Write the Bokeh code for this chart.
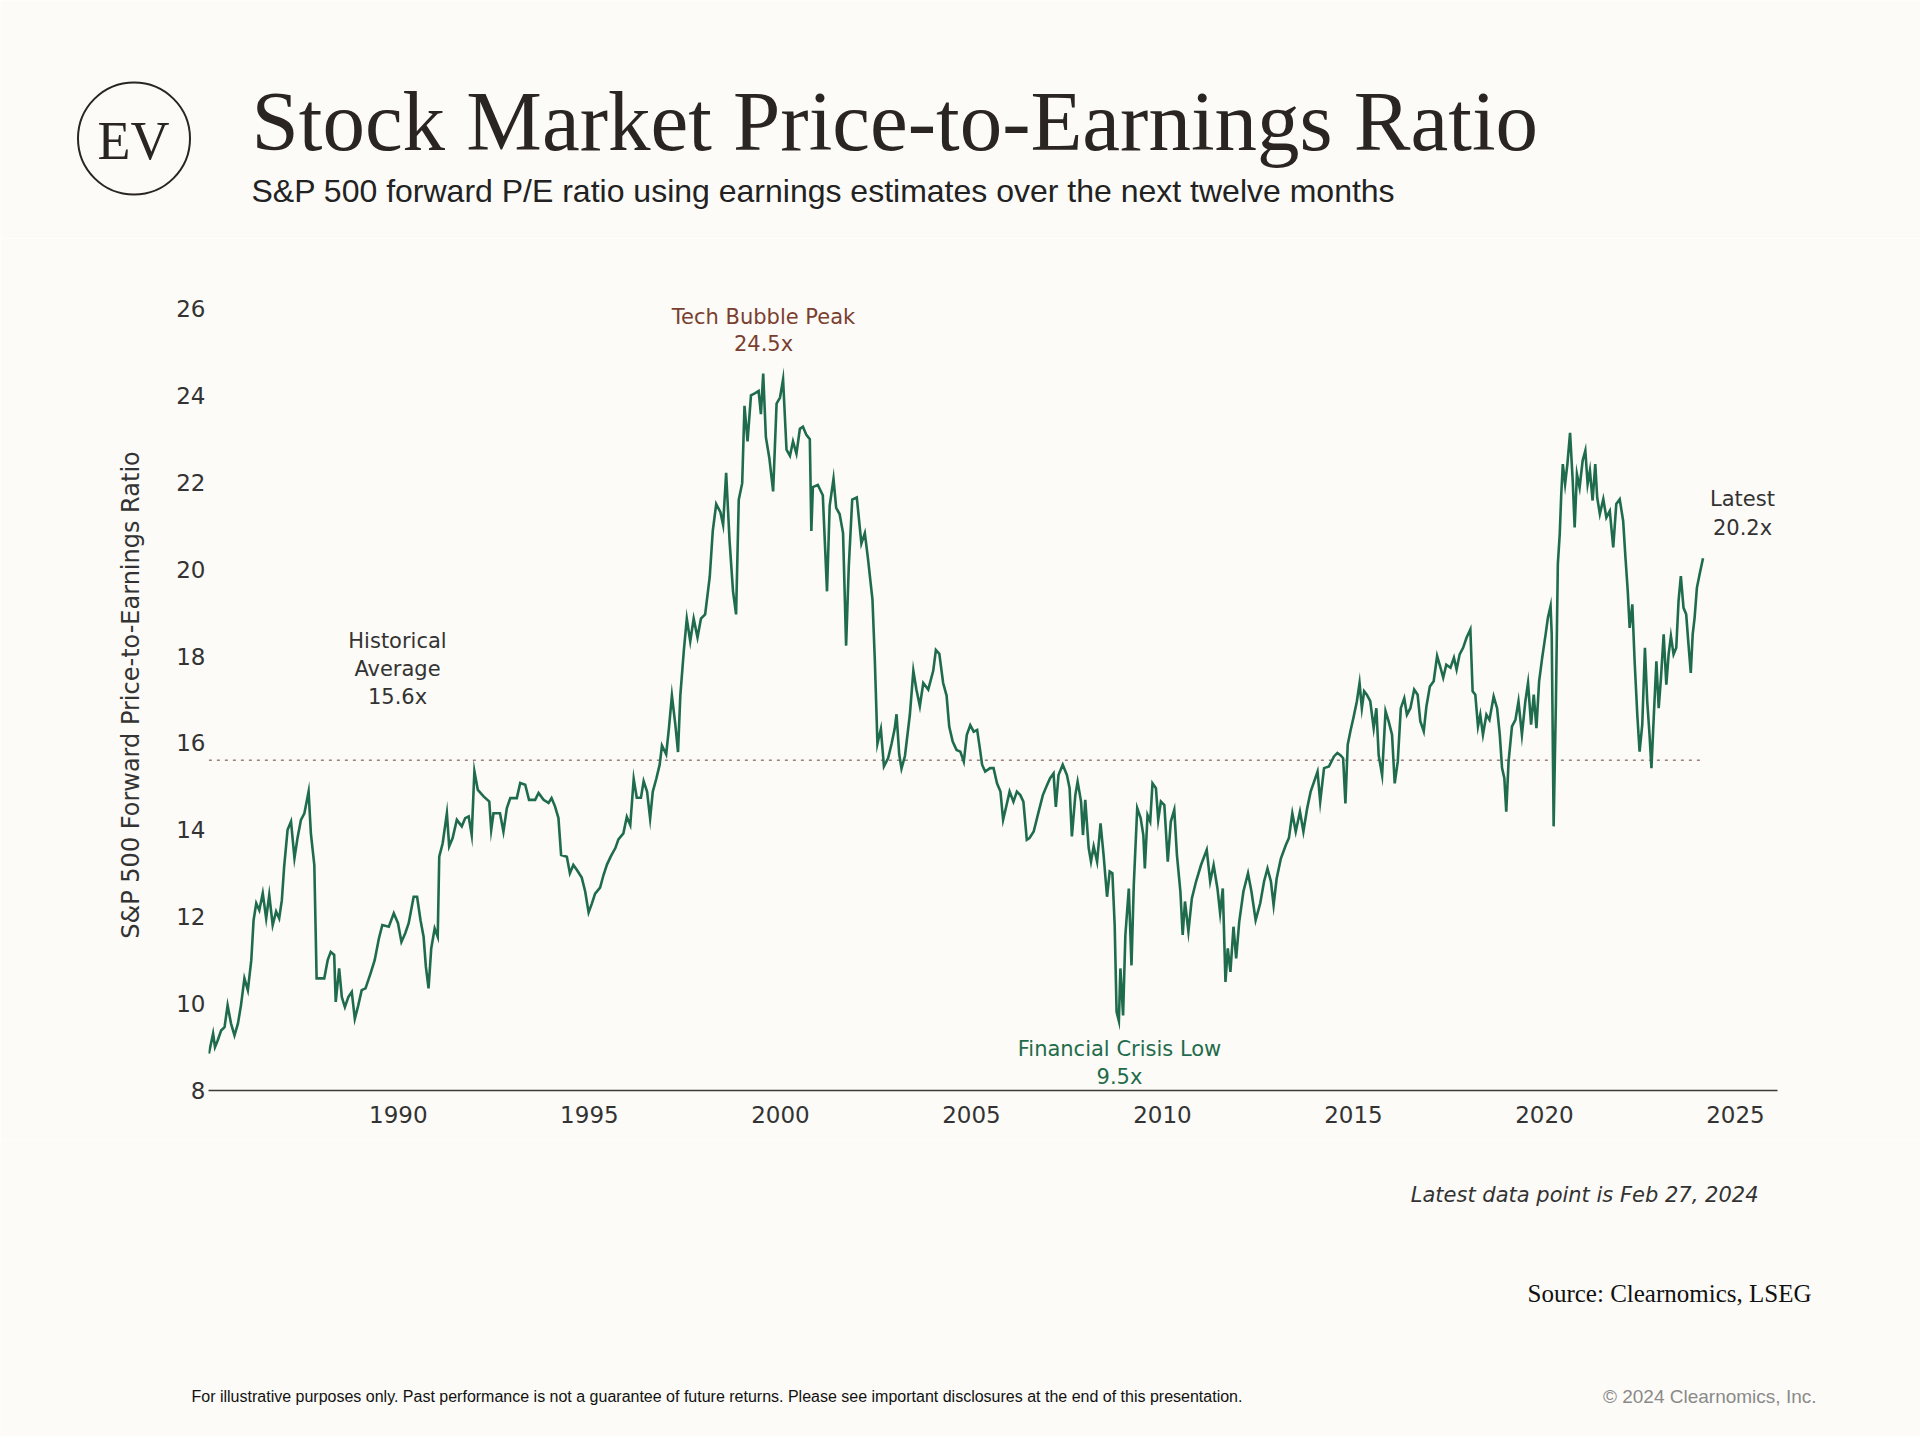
from bokeh.plotting import figure
from bokeh.layouts import column
from bokeh.models import Range1d, FixedTicker, Label
from bokeh.embed import file_html
from bokeh.resources import INLINE

# ---------------- data (decimal year, forward P/E) ----------------
dates = [
    1985.04, 1985.15, 1985.2, 1985.27, 1985.36, 1985.45, 1985.53, 1985.62, 1985.71, 1985.8,
    1985.88, 1985.97, 1986.06, 1986.15, 1986.21, 1986.28, 1986.36, 1986.45, 1986.54, 1986.62,
    1986.71, 1986.8, 1986.88, 1986.95, 1987.01, 1987.1, 1987.19, 1987.28, 1987.36, 1987.45,
    1987.54, 1987.65, 1987.71, 1987.8, 1987.86, 1988.06, 1988.15, 1988.23, 1988.32, 1988.36,
    1988.45, 1988.52, 1988.6, 1988.69, 1988.78, 1988.86, 1988.95, 1989.04, 1989.14, 1989.27,
    1989.38, 1989.49, 1989.58, 1989.75, 1989.88, 1989.99, 1990.08, 1990.18, 1990.27, 1990.4,
    1990.49, 1990.58, 1990.66, 1990.72, 1990.79, 1990.86, 1990.95, 1991.03, 1991.07, 1991.16,
    1991.27, 1991.33, 1991.42, 1991.53, 1991.66, 1991.75, 1991.84, 1991.92, 1991.99, 1992.08,
    1992.23, 1992.38, 1992.43, 1992.49, 1992.66, 1992.75, 1992.84, 1992.93, 1993.1, 1993.19,
    1993.32, 1993.42, 1993.58, 1993.67, 1993.8, 1993.93, 1994.01, 1994.1, 1994.19, 1994.26,
    1994.41, 1994.49, 1994.58, 1994.67,
    1994.8, 1994.89, 1994.98, 1995.06, 1995.15, 1995.28, 1995.37, 1995.46, 1995.56, 1995.68,
    1995.76, 1995.89, 1995.98, 1996.07, 1996.16, 1996.24, 1996.35, 1996.42, 1996.51, 1996.59,
    1996.66, 1996.75, 1996.84, 1996.9, 1997.01, 1997.08, 1997.16, 1997.25, 1997.32, 1997.38,
    1997.47, 1997.55, 1997.64, 1997.73, 1997.83, 1997.92, 1998.03, 1998.15, 1998.23, 1998.32,
    1998.43, 1998.5, 1998.58, 1998.67, 1998.76, 1998.84, 1998.91, 1999.0, 1999.06, 1999.14,
    1999.23, 1999.34, 1999.43, 1999.49, 1999.55, 1999.62, 1999.71, 1999.81, 1999.9, 1999.99,
    2000.07, 2000.16, 2000.25, 2000.33, 2000.42, 2000.51, 2000.59, 2000.68, 2000.77, 2000.81,
    2000.85, 2000.98, 2001.11, 2001.22, 2001.29, 2001.39, 2001.46, 2001.55, 2001.64, 2001.72,
    2001.79, 2001.88, 2002.0, 2002.12, 2002.21, 2002.29, 2002.41, 2002.47, 2002.54, 2002.63,
    2002.71, 2002.82, 2002.91, 2002.99, 2003.04, 2003.11, 2003.17, 2003.26, 2003.39, 2003.48,
    2003.56, 2003.65, 2003.74, 2003.87, 2004.0, 2004.07, 2004.16, 2004.26, 2004.35, 2004.42,
    2004.51, 2004.61,
    2004.71, 2004.8, 2004.88, 2004.97, 2005.06, 2005.15, 2005.22, 2005.28, 2005.36, 2005.49,
    2005.58, 2005.67, 2005.76, 2005.83, 2005.91, 2006.0, 2006.1, 2006.19, 2006.28, 2006.36,
    2006.45, 2006.52, 2006.63, 2006.76, 2006.87, 2006.98, 2007.06, 2007.15, 2007.21, 2007.28,
    2007.39, 2007.5, 2007.57, 2007.63, 2007.72, 2007.78, 2007.87, 2007.92, 2007.98, 2008.07,
    2008.13, 2008.2, 2008.29, 2008.38, 2008.46, 2008.55, 2008.62, 2008.69, 2008.75, 2008.8,
    2008.86, 2008.9, 2008.97, 2009.03, 2009.12, 2009.19, 2009.25, 2009.34, 2009.43, 2009.5,
    2009.54, 2009.61, 2009.68, 2009.74, 2009.83, 2009.89, 2009.96, 2010.05, 2010.14, 2010.22,
    2010.31, 2010.38, 2010.47, 2010.53, 2010.59, 2010.68, 2010.77, 2010.88, 2011.01, 2011.16,
    2011.25, 2011.34, 2011.44, 2011.51, 2011.58, 2011.65, 2011.71, 2011.78, 2011.86, 2011.93,
    2012.01, 2012.12, 2012.24, 2012.33, 2012.44, 2012.56, 2012.66, 2012.75, 2012.84, 2012.91,
    2012.99, 2013.1, 2013.23, 2013.31, 2013.4, 2013.49, 2013.6, 2013.69, 2013.79, 2013.88,
    2013.97, 2014.06, 2014.13, 2014.23, 2014.36, 2014.49, 2014.58,
    2014.66, 2014.73, 2014.79, 2014.85, 2014.92, 2015.0, 2015.09, 2015.16, 2015.22, 2015.28,
    2015.35, 2015.44, 2015.53, 2015.6, 2015.66, 2015.75, 2015.84, 2015.92, 2016.01, 2016.08,
    2016.16, 2016.24, 2016.33, 2016.4, 2016.49, 2016.59, 2016.68, 2016.75, 2016.84, 2016.91,
    2017.0, 2017.1, 2017.19, 2017.28, 2017.35, 2017.43, 2017.54, 2017.63, 2017.7, 2017.78,
    2017.87, 2017.96, 2018.06, 2018.12, 2018.19, 2018.26, 2018.32, 2018.39, 2018.48, 2018.56,
    2018.67, 2018.76, 2018.83, 2018.89, 2018.95, 2019.0, 2019.06, 2019.15, 2019.24, 2019.32,
    2019.41, 2019.5, 2019.57, 2019.65, 2019.72, 2019.79, 2019.86, 2019.94, 2020.03, 2020.09,
    2020.16, 2020.19, 2020.24, 2020.3, 2020.35, 2020.4, 2020.44, 2020.48, 2020.54, 2020.6,
    2020.67, 2020.74, 2020.79, 2020.85, 2020.92, 2021.0, 2021.07, 2021.13, 2021.19, 2021.26,
    2021.33, 2021.38, 2021.45, 2021.54, 2021.62, 2021.71, 2021.8, 2021.88, 2021.97, 2022.06,
    2022.12, 2022.18, 2022.23, 2022.3, 2022.36, 2022.43, 2022.49, 2022.56, 2022.63, 2022.69,
    2022.75, 2022.8, 2022.86, 2022.93, 2022.99, 2023.05, 2023.12, 2023.19, 2023.25, 2023.31,
    2023.38, 2023.45, 2023.51, 2023.57, 2023.64, 2023.71, 2023.77, 2023.83, 2023.88, 2023.93,
    2023.99, 2024.06, 2024.15,
]

pe = [
    8.85, 9.31, 9.0, 9.15, 9.38, 9.46, 9.96, 9.54, 9.27, 9.54,
    9.96, 10.58, 10.31, 11.0, 11.92, 12.31, 12.15, 12.54, 11.96, 12.5,
    11.81, 12.12, 11.96, 12.38, 13.15, 14.0, 14.19, 13.35, 13.81, 14.23,
    14.38, 14.88, 13.92, 13.19, 10.58, 10.58, 11.0, 11.19, 11.12, 10.04,
    10.81, 10.15, 9.92, 10.15, 10.27, 9.65, 9.96, 10.31, 10.35, 10.69,
    11.0, 11.5, 11.81, 11.77, 12.08, 11.85, 11.42, 11.62, 11.85, 12.46,
    12.46, 11.92, 11.54, 10.85, 10.35, 11.27, 11.73, 11.54, 13.38, 13.69,
    14.38, 13.62, 13.81, 14.23, 14.08, 14.27, 14.31, 13.88, 15.35, 14.92,
    14.77, 14.65, 14.0, 14.38, 14.38, 13.96, 14.5, 14.73, 14.73, 15.08,
    15.04, 14.69, 14.69, 14.85, 14.69, 14.62, 14.73, 14.54, 14.27, 13.42,
    13.38, 13.0, 13.19, 13.08,
    12.9, 12.58, 12.1, 12.29, 12.53, 12.67, 12.96, 13.2, 13.39, 13.58,
    13.78, 13.92, 14.3, 14.11, 15.17, 14.74, 14.74, 15.12, 14.88, 14.26,
    14.88, 15.17, 15.5, 15.94, 15.74, 16.32, 17.09, 16.42, 15.79, 17.09,
    18.1, 18.86, 18.34, 18.86, 18.43, 18.86, 18.96, 19.82, 20.88, 21.5,
    21.31, 21.02, 22.22, 20.64, 19.49, 18.96, 21.6, 21.98, 23.76, 22.94,
    24.0, 24.05, 24.1, 23.57, 24.5, 23.04, 22.56, 21.79, 23.81, 23.95,
    24.37, 22.75, 22.61, 22.94, 22.66, 23.23, 23.28, 23.09, 22.99, 20.88,
    21.89, 21.94, 21.7, 19.49, 21.46, 22.08, 21.41, 21.27, 20.83, 18.24,
    20.06, 21.6, 21.65, 20.59, 20.83, 20.26, 19.3, 17.95, 15.98, 16.32,
    15.46, 15.65, 15.98, 16.32, 16.66, 15.74, 15.41, 15.7, 16.66, 17.66,
    17.23, 16.85, 17.38, 17.23, 17.66, 18.14, 18.05, 17.38, 17.09, 16.37,
    16.03, 15.84,
    15.8, 15.57, 16.19, 16.41, 16.26, 16.3, 15.88, 15.5, 15.34, 15.42,
    15.42, 15.07, 14.88, 14.23, 14.53, 14.88, 14.65, 14.88, 14.8, 14.65,
    13.77, 13.81, 13.96, 14.42, 14.8, 15.03, 15.19, 15.3, 14.53, 15.26,
    15.5, 15.26, 14.96, 13.85, 14.8, 15.11, 14.65, 13.88, 14.69, 13.58,
    13.27, 13.62, 13.27, 14.15, 13.42, 12.46, 13.04, 13.0, 11.81, 9.81,
    9.6, 10.81, 9.73, 11.58, 12.65, 10.88, 12.73, 14.5, 14.27, 13.88,
    13.11, 14.34, 14.19, 15.07, 14.96, 14.23, 14.65, 14.57, 13.27, 14.19,
    14.46, 13.42, 12.58, 11.58, 12.35, 11.66, 12.42, 12.81, 13.19, 13.54,
    12.81, 13.19, 12.65, 12.08, 12.65, 10.5, 11.27, 10.73, 11.77, 11.04,
    11.88, 12.58, 13.0, 12.58, 11.92, 12.31, 12.81, 13.11, 12.81, 12.27,
    12.88, 13.34, 13.65, 13.81, 14.38, 13.96, 14.42, 13.96, 14.5, 14.88,
    15.11, 15.34, 14.65, 15.42, 15.46, 15.69, 15.77,
    15.72, 15.65, 14.61, 15.96, 16.27, 16.58, 16.96, 17.38, 16.8, 17.19,
    17.11, 16.96, 16.34, 16.8, 15.72, 15.26, 16.73, 16.5, 16.19, 15.07,
    15.57, 16.8, 17.03, 16.65, 16.8, 17.23, 17.11, 16.5, 16.27, 16.84,
    17.3, 17.42, 18.0, 17.73, 17.5, 17.8, 17.73, 17.96, 17.69, 18.04,
    18.19, 18.42, 18.61, 17.19, 17.11, 16.38, 16.65, 16.19, 16.65, 16.53,
    17.07, 16.8, 16.19, 15.42, 15.19, 14.42, 15.57, 16.38, 16.53, 16.96,
    16.19, 16.96, 17.38, 16.42, 17.11, 16.34, 17.42, 17.96, 18.5, 18.88,
    19.15, 18.5, 14.08, 16.96, 20.11, 20.81, 21.73, 22.42, 21.96, 22.42,
    23.14, 22.03, 20.96, 22.19, 21.88, 22.5, 22.73, 21.96, 22.27, 21.58,
    22.42, 21.65, 21.27, 21.61, 21.19, 21.34, 20.5, 21.5, 21.61, 21.11,
    20.27, 19.5, 18.65, 19.19, 17.88, 16.65, 15.8, 16.42, 18.19, 16.96,
    16.19, 15.42, 16.58, 17.88, 16.8, 17.5, 18.5, 17.34, 18.04, 18.46,
    18.04, 18.19, 19.27, 19.84, 19.11, 18.96, 18.27, 17.61, 18.5, 18.88,
    19.57, 19.88, 20.25,
]

hist_avg = 15.6
y_ticks = [8, 10, 12, 14, 16, 18, 20, 22, 24, 26]
x_ticks = [1990, 1995, 2000, 2005, 2010, 2015, 2020, 2025]

title_text = "Stock Market Price-to-Earnings Ratio"
subtitle_text = "S&P 500 forward P/E ratio using earnings estimates over the next twelve months"
y_label = "S&P 500 Forward Price-to-Earnings Ratio"

# ---------------- styling ----------------
BG = "#fcfbf7"
GREEN = "#1f6c4c"
BROWN = "#7a3f30"
DARK = "#333333"
W = 1920

HEAD_H = 238          # header strip: page y 0..238
MAIN_H = 902          # main chart: page y 238..1140
FOOT_H = 296          # footer strip: page y 1140..1436

# scale: value 26 sits at page y 308, value 8 at page y 1090
X0, X1 = 1985.03, 2026.10
FL, FW = 208, 1569
Y_TOP_VAL, Y_BOT_VAL = 26, 8
PY_TOP, PY_BOT = 308, 1090
PX_PER_UNIT = (PY_BOT - PY_TOP) / (Y_TOP_VAL - Y_BOT_VAL)
FT = 299                                   # frame top (page px), small room for labels
Y1 = Y_TOP_VAL + (PY_TOP - FT) / PX_PER_UNIT
FH = PY_BOT - FT


def blank(height):
    f = figure(width=W, height=height, x_range=Range1d(0, W),
               y_range=Range1d(height, 0), output_backend="svg",
               toolbar_location=None, title=None, frame_align=False,
               min_border=0, min_border_left=0, min_border_right=0,
               min_border_top=0, min_border_bottom=0,
               background_fill_color=BG, border_fill_color=BG,
               outline_line_color=None)
    f.axis.visible = False
    f.grid.visible = False
    return f


def put(fig, text, x, y, size, color, font="DejaVu Sans", align="center",
        baseline="middle", style="normal"):
    fig.add_layout(Label(x=x, y=y, text=text, text_font=font,
                         text_font_size=f"{size}px", text_color=color,
                         text_align=align, text_baseline=baseline,
                         text_font_style=style))


# ---------------- header ----------------
head = blank(HEAD_H)
put(head, title_text, 251, 120, 85, "#2a2522", font="Liberation Serif",
    align="left")
put(head, subtitle_text, 251, 190, 32, "#222222", font="Liberation Sans",
    align="left")
head.scatter([133.5], [138], size=112, marker="circle", fill_color=None,
             line_color="#2a2522", line_width=2)
put(head, "EV", 133, 140, 54, "#2a2522", font="Liberation Serif")

# ---------------- main chart ----------------
p = figure(width=W, height=MAIN_H,
           x_range=Range1d(X0, X1), y_range=Range1d(Y_BOT_VAL, Y1),
           output_backend="svg", toolbar_location=None, title=None,
           frame_align=False,
           min_border_left=FL, min_border_top=FT - HEAD_H,
           min_border_right=W - FL - FW,
           min_border_bottom=HEAD_H + MAIN_H - FT - FH,
           background_fill_color=BG, border_fill_color=BG,
           outline_line_color=None)

p.xgrid.visible = False
p.ygrid.visible = False

p.xaxis.ticker = FixedTicker(ticks=x_ticks)
p.yaxis.ticker = FixedTicker(ticks=y_ticks)
for ax in (p.xaxis, p.yaxis):
    ax.major_tick_line_color = None
    ax.minor_tick_line_color = None
    ax.major_tick_out = 0
    ax.major_tick_in = 0
    ax.minor_tick_out = 0
    ax.major_label_text_font = "DejaVu Sans"
    ax.major_label_text_font_size = "23px"
    ax.major_label_text_color = DARK
p.xaxis.axis_line_color = "#3a3a3a"
p.xaxis.axis_line_width = 1.6
p.xaxis.major_label_standoff = 15
p.yaxis.axis_line_color = None
p.yaxis.major_label_standoff = 3
p.yaxis.axis_label = y_label
p.yaxis.axis_label_text_font = "DejaVu Sans"
p.yaxis.axis_label_text_font_size = "24px"
p.yaxis.axis_label_text_font_style = "normal"
p.yaxis.axis_label_text_color = DARK
p.yaxis.axis_label_standoff = 28

# historical average line
p.line([dates[0], dates[-1]], [hist_avg, hist_avg], line_color="#9a7f78",
       line_width=1.6, line_dash="3 5")

# main series
p.line(dates, pe, line_color=GREEN, line_width=2.6, line_join="miter")


def dx(px):
    return X0 + (px - FL) / FW * (X1 - X0)


def dy(py):
    return Y_TOP_VAL - (py - PY_TOP) / PX_PER_UNIT


def lab(text, px, py, size, color):
    put(p, text, dx(px), dy(py), size, color)


lab("Tech Bubble Peak", 763, 316, 21, BROWN)
lab("24.5x", 763, 343, 21, BROWN)
lab("Historical", 397, 640, 21, DARK)
lab("Average", 397, 668, 21, DARK)
lab("15.6x", 397, 696, 21, DARK)
lab("Financial Crisis Low", 1119, 1048, 21, GREEN)
lab("9.5x", 1119, 1076, 21, GREEN)
lab("Latest", 1742, 498, 21, DARK)
lab("20.2x", 1742, 527, 21, DARK)

# ---------------- footer ----------------
foot = blank(FOOT_H)
F0 = HEAD_H + MAIN_H
put(foot, "Latest data point is Feb 27, 2024", 1758, 1194 - F0, 21, DARK,
    align="right", style="italic")
put(foot, "Source: Clearnomics, LSEG", 1811, 1293 - F0, 25, "#111111",
    font="Liberation Serif", align="right")
put(foot, "For illustrative purposes only. Past performance is not a guarantee of future returns. "
    "Please see important disclosures at the end of this presentation.",
    191, 1396 - F0, 16, "#111111", font="Liberation Sans", align="left")
put(foot, "\u00a9 2024 Clearnomics, Inc.", 1816, 1396 - F0, 19, "#8a8a8a",
    font="Liberation Sans", align="right")

layout = column(head, p, foot, spacing=0)
open("out.html", "w").write(file_html(layout, INLINE))
